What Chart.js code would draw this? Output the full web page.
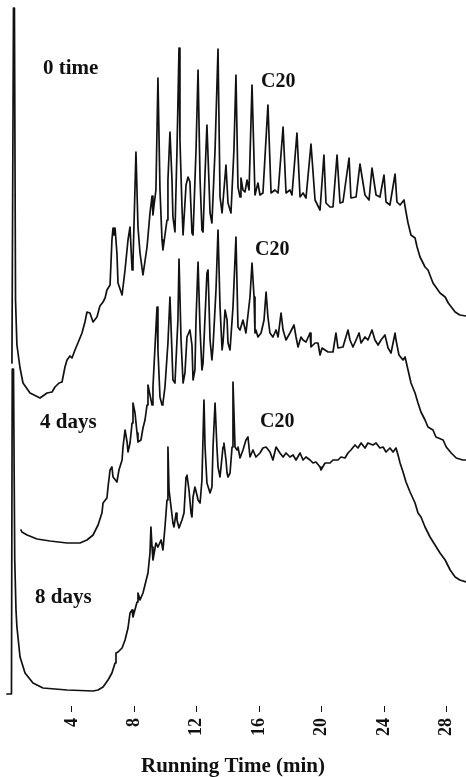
<!DOCTYPE html>
<html>
<head>
<meta charset="utf-8">
<script src="https://cdn.jsdelivr.net/npm/chart.js@4.4.1/dist/chart.umd.min.js"></script>
<style>
  html, body { margin: 0; padding: 0; background: #ffffff; }
  #wrap { width: 466px; height: 777px; }
</style>
</head>
<body>
<div id="wrap"><canvas id="c" width="466" height="777"></canvas></div>
<script>
// ---- Data (running time in min, detector response in arbitrary units, traces offset) ----
const seriesNames = ["0 time", "4 days", "8 days"];
const xTicks = [4, 8, 12, 16, 20, 24, 28];
const peakLabel = "C20";

const t0Time = [0.15,0.25,0.31,0.38,0.47,0.67,0.86,1.31,1.95,2.40,2.72,2.91,3.17,3.36,3.55,3.68,3.87,4.00,4.19,4.38,4.64,4.83,4.96,5.15,5.35,5.60,5.79,5.99,6.12,6.24,6.44,6.56,6.63,6.69,6.76,6.88,6.95,7.21,7.40,7.59,7.72,7.85,7.91,8.10,8.23,8.36,8.55,8.81,9.00,9.13,9.19,9.26,9.38,9.51,9.64,9.77,9.83,10.09,10.15,10.28,10.41,10.47,10.60,10.73,10.86,10.92,11.05,11.12,11.31,11.44,11.56,11.69,11.76,11.95,12.08,12.21,12.33,12.40,12.53,12.65,12.85,12.97,13.17,13.36,13.49,13.62,13.87,14.00,14.19,14.38,14.51,14.64,14.77,14.83,14.96,15.09,15.22,15.35,15.54,15.73,15.92,16.05,16.24,16.56,16.76,17.01,17.21,17.53,17.72,17.97,18.10,18.42,18.62,18.81,19.00,19.32,19.58,19.90,20.15,20.28,20.54,20.73,20.99,21.18,21.37,21.76,21.88,22.21,22.46,22.78,23.04,23.23,23.49,23.74,24.00,24.13,24.38,24.71,24.83,25.03,25.28,25.41,25.54,25.73,25.99,26.12,26.31,26.63,26.82,27.14,27.59,27.92,28.12,28.56,28.86,29.26];
const s0Time = [343,698,698,406,361,338,323,313,308,313,314,319,323,324,339,346,350,348,356,363,373,384,394,393,384,389,400,404,408,416,421,466,478,471,478,453,423,411,436,466,479,436,444,554,479,453,431,459,493,510,491,501,516,628,516,466,456,486,526,574,526,489,474,556,658,566,499,471,521,529,524,473,471,556,636,526,476,474,533,581,493,483,556,657,509,493,541,503,493,556,631,519,509,528,516,514,526,516,621,511,523,511,513,601,513,516,513,579,513,516,511,573,509,513,508,562,506,496,551,503,499,499,551,503,504,548,508,509,542,511,506,538,511,509,531,504,501,532,504,501,506,494,483,471,468,459,449,439,436,423,413,409,403,394,391,390];

const t4Days = [0.73,0.79,1.12,1.76,2.59,3.68,4.51,4.96,5.35,5.67,5.92,5.99,6.24,6.31,6.44,6.56,6.63,6.88,7.01,7.21,7.27,7.40,7.53,7.59,7.72,7.85,7.91,8.04,8.17,8.23,8.42,8.55,8.68,8.81,8.87,9.00,9.13,9.19,9.45,9.51,9.64,9.77,9.83,9.96,10.15,10.28,10.41,10.47,10.60,10.79,10.86,10.99,11.12,11.24,11.37,11.56,11.69,11.76,11.88,11.95,12.08,12.21,12.33,12.40,12.65,12.72,12.85,12.97,13.04,13.23,13.36,13.49,13.62,13.68,13.81,13.94,14.00,14.13,14.32,14.51,14.64,14.77,14.96,15.15,15.41,15.54,15.67,15.73,15.79,15.92,16.12,16.31,16.44,16.56,16.69,16.88,17.08,17.21,17.40,17.53,17.72,17.97,18.23,18.36,18.49,18.68,18.81,19.00,19.26,19.32,19.58,19.77,19.90,20.03,20.22,20.41,20.73,20.92,21.05,21.37,21.69,21.82,22.01,22.21,22.40,22.53,22.78,22.97,23.23,23.42,23.62,23.81,24.06,24.26,24.45,24.71,24.77,24.96,25.22,25.35,25.54,25.73,25.99,26.18,26.37,26.63,26.82,27.14,27.33,27.79,27.99,28.31,28.63,29.05,29.26];
const s4Days = [176,174,171,167,165,163,163,166,171,181,193,203,208,219,236,239,229,224,236,246,259,276,264,254,263,283,303,293,273,264,266,278,286,301,321,311,301,319,399,356,309,301,303,319,363,409,353,326,323,386,447,366,323,333,369,376,361,326,336,386,444,376,336,343,433,436,366,346,359,416,476,399,356,363,396,386,363,356,399,469,379,376,386,373,409,443,409,373,376,369,373,386,414,389,373,369,376,369,393,376,366,373,381,369,359,369,366,364,373,359,363,363,351,358,356,354,354,373,358,359,376,366,359,366,373,363,369,366,376,366,361,366,371,358,353,373,366,351,346,349,336,323,313,303,294,286,279,276,269,266,259,253,248,246,246];

const t8Days = [-0.17,0.12,0.17,0.25,0.33,0.41,0.47,0.67,0.99,1.50,2.14,3.68,5.35,5.67,5.99,6.31,6.56,6.76,6.82,6.95,7.21,7.40,7.59,7.72,7.85,7.91,8.17,8.23,8.36,8.55,8.87,9.00,9.06,9.13,9.19,9.38,9.51,9.71,9.83,9.96,10.09,10.15,10.22,10.35,10.47,10.54,10.67,10.73,10.86,11.05,11.18,11.31,11.37,11.50,11.63,11.69,11.76,11.88,12.01,12.08,12.21,12.33,12.46,12.53,12.65,12.85,12.97,13.04,13.17,13.29,13.36,13.49,13.68,13.74,13.87,13.94,14.00,14.13,14.26,14.32,14.45,14.58,14.64,14.77,14.96,15.15,15.28,15.41,15.60,15.79,16.05,16.24,16.44,16.69,16.88,17.08,17.33,17.53,17.72,17.97,18.17,18.36,18.62,18.81,19.00,19.26,19.45,19.64,19.90,19.96,20.22,20.54,20.73,21.05,21.24,21.50,21.69,21.88,22.14,22.33,22.53,22.78,22.97,23.29,23.49,23.74,23.94,24.13,24.38,24.58,24.77,24.90,25.03,25.22,25.41,25.67,25.99,26.18,26.37,26.63,26.95,27.27,27.59,27.92,28.24,28.56,28.86,29.26];
const s8Days = [12,12,337,337,146,96,79,49,33,23,18,16,15,16,19,26,33,43,53,54,58,66,78,93,96,89,104,113,106,113,133,153,179,159,146,163,159,166,156,179,206,259,216,199,183,179,193,186,178,186,193,229,231,216,193,189,209,219,211,206,203,226,306,259,223,213,219,259,303,259,239,229,259,263,246,233,229,233,259,324,259,256,259,248,256,266,269,249,256,249,253,258,259,254,246,259,253,249,253,249,251,246,253,246,249,246,243,244,239,236,243,243,246,246,249,248,253,256,261,258,263,258,263,261,263,258,259,254,258,254,258,251,243,234,224,214,203,193,189,179,169,161,153,146,136,129,126,124];

// Text annotations placed in data coordinates (time, response)
const annotations = [
  { text: seriesNames[0], t: 2.14, s: 632, size: 21 },
  { text: seriesNames[1], t: 1.95, s: 278, size: 21 },
  { text: seriesNames[2], t: 1.63, s: 103, size: 21 },
  { text: peakLabel, t: 16.12, s: 619, size: 20 },
  { text: peakLabel, t: 15.73, s: 451, size: 20 },
  { text: peakLabel, t: 16.05, s: 279, size: 20 }
];

const INK = '#111111';
const SERIF = '"Liberation Serif", "DejaVu Serif", serif';
Chart.defaults.font.family = SERIF;

function zip(ts, ss) { return ts.map((t, i) => ({ x: t, y: ss[i] })); }

function lineSet(label, ts, ss) {
  return {
    label: label,
    data: zip(ts, ss),
    borderColor: INK,
    borderWidth: 1.7,
    pointRadius: 0,
    tension: 0,
    fill: false,
    borderJoinStyle: 'round',
    borderCapStyle: 'round'
  };
}

const textPlugin = {
  id: 'chromLabels',
  afterDatasetsDraw(chart) {
    const ctx = chart.ctx;
    const xs = chart.scales.x, ys = chart.scales.y;
    ctx.save();
    ctx.fillStyle = INK;
    ctx.textAlign = 'left';
    ctx.textBaseline = 'alphabetic';
    annotations.forEach(a => {
      ctx.font = 'bold ' + a.size + 'px ' + SERIF;
      ctx.fillText(a.text, xs.getPixelForValue(a.t), ys.getPixelForValue(a.s));
    });
    ctx.restore();
  }
};

new Chart(document.getElementById('c'), {
  type: 'line',
  data: {
    datasets: [
      lineSet(seriesNames[0], t0Time, s0Time),
      lineSet(seriesNames[1], t4Days, s4Days),
      lineSet(seriesNames[2], t8Days, s8Days)
    ]
  },
  options: {
    responsive: false,
    animation: false,
    layout: { padding: 0 },
    plugins: { legend: { display: false }, tooltip: { enabled: false } },
    scales: {
      x: {
        type: 'linear',
        position: 'bottom',
        min: -0.615,
        max: 29.256,
        afterBuildTicks: (scale) => { scale.ticks = xTicks.map(v => ({ value: v })); },
        afterFit: (scale) => { scale.height = 71; scale.paddingLeft = 0; scale.paddingRight = 0; },
        border: { display: false },
        grid: { drawOnChartArea: false, drawTicks: true, tickLength: 6, color: INK, lineWidth: 1 },
        ticks: {
          autoSkip: false,
          minRotation: 90,
          maxRotation: 90,
          padding: 6,
          color: INK,
          font: { family: SERIF, size: 18, weight: 'bold' },
          callback: (v) => String(v)
        },
        title: {
          display: true,
          text: 'Running Time (min)',
          color: INK,
          font: { family: SERIF, size: 21, weight: 'bold', lineHeight: 1.0 },
          padding: { top: 0, bottom: 0 }
        }
      },
      y: { display: false, min: 0, max: 706 }
    }
  },
  plugins: [textPlugin]
});
</script>
</body>
</html>
